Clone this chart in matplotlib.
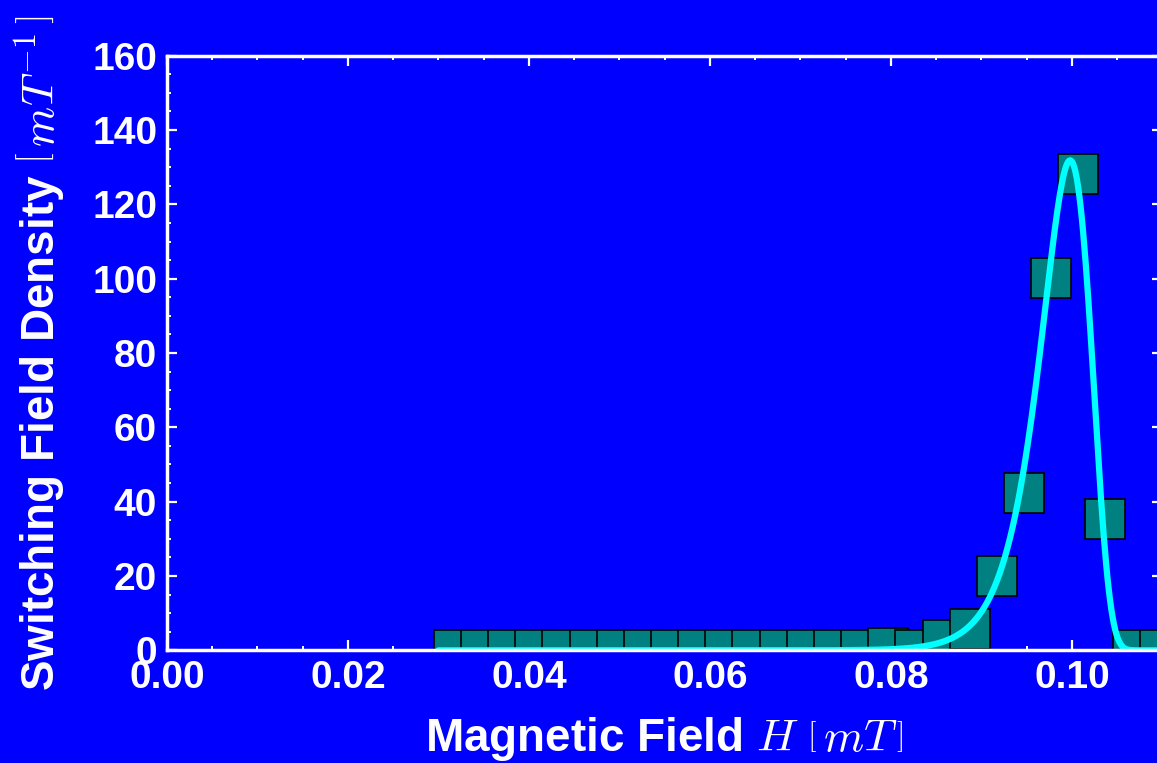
import numpy as np
import matplotlib
matplotlib.use("Agg")
import matplotlib.pyplot as plt
from matplotlib.ticker import MultipleLocator

# ---------- data ----------
field_bins = [0.0317, 0.0347, 0.0377, 0.0407, 0.0437, 0.0467, 0.0497, 0.0527,
              0.0557, 0.0587, 0.0617, 0.0647, 0.0677, 0.0707, 0.0737, 0.0767,
              0.0797, 0.0827, 0.0857, 0.0887, 0.0917, 0.0947, 0.0977, 0.1007,
              0.1037, 0.1067, 0.1097]
density = [0, 0, 0, 0, 0, 0, 0, 0, 0, 0, 0, 0, 0, 0, 0, 0,
           0.6, 0, 2.9, 5.6, 19.9, 42.3, 100.2, 128.1, 35.2, 0, 0]

# Gumbel (min) fit: location / scale in mT
fit_mu = 0.0998
fit_beta = 0.00279
fit_range = (0.030, 0.115)

xticks = [0.00, 0.02, 0.04, 0.06, 0.08, 0.10]
yticks = [0, 20, 40, 60, 80, 100, 120, 140, 160]

BG = "#0000ff"
plt.rcParams["font.family"] = ["Liberation Sans", "DejaVu Sans"]
plt.rcParams["font.weight"] = "bold"
plt.rcParams["mathtext.fontset"] = "cm"

fig = plt.figure(figsize=(11.57, 7.63), dpi=100, facecolor=BG)
ax = fig.add_axes([0.1443, 0.1477, 0.8604, 0.7793], facecolor=BG)

ax.plot(field_bins, density, ls="none", marker="s", ms=28.5,
        mfc="#008080", mec="black", mew=1.2, zorder=2)

xf = np.linspace(*fit_range, 600)
z = (xf - fit_mu) / fit_beta
yf = np.exp(z - np.exp(z)) / fit_beta
ax.plot(xf, yf, color="#00ffff", lw=4.5, zorder=3, solid_capstyle="round")

ax.set_xlim(0, 0.11)
ax.set_ylim(0, 160)
ax.set_xticks(xticks)
ax.set_yticks(yticks)
ax.set_xticklabels([f"{t:.2f}" for t in xticks])
ax.xaxis.set_minor_locator(MultipleLocator(0.005))
ax.yaxis.set_minor_locator(MultipleLocator(5))

for s in ax.spines.values():
    s.set_color("white"); s.set_linewidth(2.5); s.set_zorder(4)
ax.tick_params(which="both", direction="in", colors="white", top=True, right=True)
ax.tick_params(which="major", length=7, width=1.6, labelsize=28, pad=7)
ax.tick_params(which="minor", length=3, width=1.4)

ax.set_xlabel(r"Magnetic Field $H\ \left[\,mT\,\right]$", color="white",
              fontsize=33, fontweight="bold", labelpad=14)
ax.set_ylabel(r"Switching Field Density $\left[\,mT^{-1}\,\right]$", color="white",
              fontsize=33, fontweight="bold", labelpad=18)

fig.savefig("out.png", dpi=100, facecolor=BG)
